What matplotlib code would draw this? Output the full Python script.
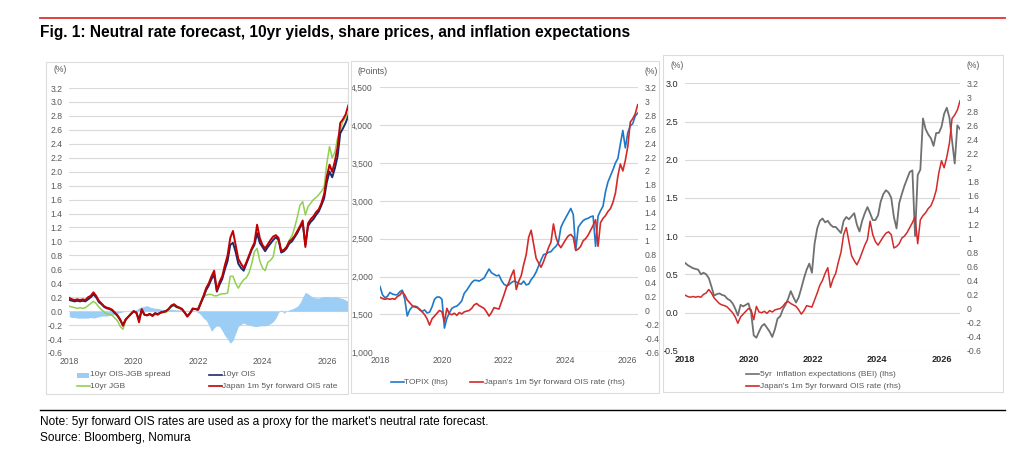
#!/usr/bin/env python3
"""Fig. 1: neutral rate forecast, 10yr yields, share prices and inflation expectations."""

import numpy as np
import pandas as pd
import matplotlib
matplotlib.use("Agg")
import matplotlib.pyplot as plt
from matplotlib.lines import Line2D
from matplotlib.patches import Rectangle
from matplotlib.ticker import FuncFormatter, FixedLocator

plt.rcParams["font.family"] = ["Liberation Sans", "DejaVu Sans"]

months = pd.date_range("2018-01-01", "2026-09-01", freq="MS")

fwd_ois = [  # Japan 1m 5yr forward OIS rate (%)
    0.19, 0.17, 0.16, 0.17, 0.16, 0.17, 0.16, 0.20, 0.22, 0.27, 0.22, 0.15,
    0.11, 0.07, 0.05, 0.04, 0.02, -0.02, -0.06, -0.12, -0.21, -0.12, -0.08, -0.04,
    0.00, -0.02, -0.16, 0.03, -0.05, -0.06, -0.04, -0.07, -0.03, -0.05, -0.02, -0.01,
    0.00, 0.03, 0.08, 0.10, 0.07, 0.05, 0.03, -0.02, -0.08, -0.03, 0.04, 0.03,
    0.02, 0.12, 0.22, 0.33, 0.40, 0.50, 0.58, 0.30, 0.42, 0.50, 0.66, 0.80,
    1.05, 1.15, 0.95, 0.75, 0.68, 0.62, 0.70, 0.80, 0.90, 0.98, 1.24, 1.05,
    0.95, 0.90, 0.96, 1.02, 1.07, 1.09, 1.05, 0.86, 0.88, 0.92, 1.00, 1.03,
    1.08, 1.15, 1.22, 1.30, 0.92, 1.26, 1.32, 1.36, 1.42, 1.46, 1.55, 1.68,
    1.93, 2.10, 2.00, 2.15, 2.35, 2.70, 2.75, 2.82, 2.95,
]
ois_10y = [  # 10yr OIS (%)
    0.16, 0.15, 0.14, 0.15, 0.14, 0.15, 0.14, 0.17, 0.20, 0.24, 0.20, 0.13,
    0.10, 0.06, 0.04, 0.03, 0.01, -0.03, -0.07, -0.13, -0.20, -0.12, -0.08, -0.04,
    0.00, -0.02, -0.12, 0.02, -0.05, -0.06, -0.04, -0.06, -0.03, -0.04, -0.02, -0.01,
    0.00, 0.03, 0.07, 0.09, 0.06, 0.05, 0.03, -0.02, -0.07, -0.03, 0.03, 0.03,
    0.02, 0.11, 0.20, 0.30, 0.37, 0.46, 0.52, 0.28, 0.38, 0.46, 0.60, 0.72,
    0.95, 0.98, 0.85, 0.68, 0.62, 0.58, 0.68, 0.78, 0.88, 0.95, 1.12, 0.98,
    0.92, 0.86, 0.92, 0.97, 1.02, 1.06, 1.02, 0.84, 0.86, 0.90, 0.97, 1.00,
    1.06, 1.12, 1.20, 1.26, 0.95, 1.22, 1.28, 1.32, 1.38, 1.43, 1.52, 1.62,
    1.85, 2.00, 1.92, 2.05, 2.22, 2.55, 2.62, 2.70, 2.80,
]
jgb_10y = [  # 10yr JGB (%)
    0.07, 0.06, 0.05, 0.04, 0.05, 0.04, 0.05, 0.08, 0.11, 0.14, 0.11, 0.06,
    0.02, -0.01, -0.04, -0.05, -0.06, -0.10, -0.14, -0.22, -0.26, -0.14, -0.08, -0.03,
    0.00, -0.04, -0.10, 0.00, -0.05, -0.06, -0.05, -0.07, -0.05, -0.05, -0.03, -0.02,
    -0.02, 0.02, 0.06, 0.08, 0.05, 0.04, 0.02, -0.02, -0.06, -0.02, 0.03, 0.03,
    0.05, 0.14, 0.20, 0.23, 0.24, 0.24, 0.22, 0.22, 0.24, 0.25, 0.25, 0.26,
    0.50, 0.50, 0.40, 0.33, 0.40, 0.45, 0.48, 0.55, 0.68, 0.85, 0.90, 0.72,
    0.62, 0.58, 0.70, 0.73, 0.78, 0.98, 1.02, 0.88, 0.88, 0.93, 1.02, 1.08,
    1.20, 1.35, 1.52, 1.57, 1.38, 1.50, 1.55, 1.60, 1.63, 1.67, 1.72, 1.78,
    2.12, 2.36, 2.20, 2.28, 2.48, 2.60, 2.72, 2.78, 2.84,
]
spread = [  # 10yr OIS-JGB spread (%)
    -0.08, -0.09, -0.09, -0.10, -0.10, -0.10, -0.10, -0.10, -0.09, -0.10, -0.09, -0.08,
    -0.07, -0.07, -0.07, -0.06, -0.05, -0.04, -0.03, -0.02, -0.01, 0.00, 0.00, 0.00,
    0.01, 0.02, 0.05, 0.06, 0.07, 0.08, 0.06, 0.05, 0.04, 0.04, 0.03, 0.02,
    0.02, 0.02, 0.03, 0.02, 0.02, 0.02, 0.01, 0.01, 0.01, 0.01, 0.01, 0.00,
    -0.02, -0.05, -0.10, -0.13, -0.20, -0.29, -0.24, -0.21, -0.22, -0.28, -0.35, -0.40,
    -0.46, -0.42, -0.32, -0.22, -0.19, -0.17, -0.19, -0.20, -0.21, -0.22, -0.22, -0.21,
    -0.21, -0.21, -0.20, -0.18, -0.15, -0.10, -0.02, 0.02, -0.03, 0.00, 0.02, 0.03,
    0.05, 0.07, 0.12, 0.20, 0.27, 0.25, 0.22, 0.20, 0.19, 0.19, 0.20, 0.21,
    0.21, 0.21, 0.20, 0.21, 0.20, 0.19, 0.18, 0.16, 0.14,
]
topix = [  # TOPIX (points)
    1870, 1760, 1720, 1740, 1790, 1770, 1760, 1760, 1800, 1820, 1700, 1480,
    1560, 1600, 1610, 1600, 1560, 1540, 1560, 1520, 1530, 1600, 1700, 1730,
    1730, 1700, 1320, 1450, 1520, 1580, 1600, 1610, 1640, 1680, 1780, 1820,
    1870, 1920, 1950, 1950, 1940, 1960, 1980, 2040, 2100, 2050, 2030, 2010,
    2020, 1950, 1900, 1880, 1890, 1920, 1940, 1930, 1910, 1900, 1940, 1890,
    1900, 1960, 2000, 2060, 2140, 2220, 2290, 2300, 2320, 2330, 2370, 2400,
    2450, 2650, 2720, 2780, 2840, 2900, 2820, 2350, 2650, 2700, 2740, 2760,
    2770, 2790, 2800, 2400, 2800, 2870, 2930, 3120, 3250, 3330, 3410, 3500,
    3560, 3750, 3930, 3700, 3900, 3990, 4020, 4120, 4160,
]
bei_5y = [  # 5yr inflation expectations, BEI (%)
    0.65, 0.62, 0.60, 0.58, 0.57, 0.56, 0.50, 0.52, 0.50, 0.45, 0.34, 0.22,
    0.24, 0.25, 0.23, 0.22, 0.18, 0.16, 0.12, 0.05, -0.04, 0.10, 0.08, 0.10,
    0.12, 0.00, -0.30, -0.33, -0.25, -0.18, -0.15, -0.20, -0.25, -0.32, -0.22, -0.08,
    -0.05, 0.04, 0.10, 0.18, 0.28, 0.20, 0.13, 0.20, 0.32, 0.45, 0.56, 0.64,
    0.52, 0.90, 1.10, 1.20, 1.23, 1.18, 1.20, 1.15, 1.12, 1.12, 1.08, 1.04,
    1.20, 1.25, 1.22, 1.26, 1.30, 1.15, 1.06, 1.20, 1.30, 1.38, 1.30, 1.21,
    1.21, 1.27, 1.45, 1.55, 1.60, 1.57, 1.50, 1.25, 1.10, 1.43, 1.55, 1.66,
    1.75, 1.84, 1.86, 1.00, 1.80, 1.87, 2.54, 2.40, 2.33, 2.28, 2.18, 2.35,
    2.35, 2.43, 2.60, 2.68, 2.55, 2.25, 1.95, 2.45, 2.40,
]
year_labels = ["2018", "2020", "2022", "2024", "2026"]

t = months.year + (months.month - 1) / 12.0

RED = "#c00000"
RED2 = "#d32a2a"
NAVY = "#1b2a6b"
GREEN = "#92d050"
LBLUE = "#9ccdf5"
BLUE = "#1f78c8"
GREY = "#707070"
TXT = "#595959"
GRID = "#d9d9d9"
FS = 6.2

W, H = 1024, 449
fig = plt.figure(figsize=(W / 100, H / 100), dpi=100)


def fx(px):
    return px / W


def fy(py):
    return 1 - py / H


def make_ax(x0, x1, y0, y1):
    ax = fig.add_axes([fx(x0), fy(y1), fx(x1 - x0), (y1 - y0) / H])
    for s in ax.spines.values():
        s.set_visible(False)
    ax.tick_params(length=0, labelsize=FS, colors=TXT)
    ax.set_axisbelow(True)
    ax.grid(axis="y", color=GRID, lw=0.8)
    return ax


def fig_line(x0, x1, y, color, lw=1.0):
    fig.add_artist(Line2D([fx(x0), fx(x1)], [fy(y), fy(y)], color=color,
                          lw=lw, transform=fig.transFigure))


def legend_item(x0, y, color, label, patch=False):
    if patch:
        fig.add_artist(Rectangle((fx(x0), fy(y + 2.5)), fx(12), 5 / H, color=color,
                                 transform=fig.transFigure, lw=0))
    else:
        fig_line(x0, x0 + 13, y, color, lw=1.2)
    fig.text(fx(x0 + 13.5), fy(y), label, fontsize=6.0, color=TXT, va="center")


def box(x0, x1, y0, y1):
    fig.add_artist(Rectangle((fx(x0), fy(y1)), fx(x1 - x0), (y1 - y0) / H,
                             fill=False, ec="#dcdcdc", lw=0.8,
                             transform=fig.transFigure))


rhs_fmt = FuncFormatter(lambda v, _: f"{round(v, 1) + 0:g}")
rhs_ticks = np.round(np.arange(-0.6, 3.21, 0.2), 1)

# header / footer
fig_line(40, 1005, 18, "#e03030", lw=1.3)
fig.text(fx(40), fy(33), "Fig. 1: Neutral rate forecast, 10yr yields, share prices, "
         "and inflation expectations", fontsize=11.2, fontweight="bold", va="center")
fig_line(40, 1005, 410, "black", lw=1.0)
fig.text(fx(40), fy(422), "Note: 5yr forward OIS rates are used as a proxy for the "
         "market's neutral rate forecast.", fontsize=8.6, va="center")
fig.text(fx(40), fy(438), "Source: Bloomberg, Nomura", fontsize=8.6, va="center")

box(46, 348, 62, 394)
box(351, 659, 61, 393)
box(663, 1003, 55, 392)

# panel 1: rates
ax1 = make_ax(69.3, 348.3, 88, 353)
ax1.fill_between(t, 0, spread, color=LBLUE, lw=0)
ax1.plot(t, jgb_10y, color=GREEN, lw=1.1)
ax1.plot(t, ois_10y, color=NAVY, lw=1.4)
ax1.plot(t, fwd_ois, color=RED, lw=1.4)
ax1.set_xlim(t[0], t[-1])
ax1.set_ylim(-0.6, 3.2)
ax1.yaxis.set_major_locator(FixedLocator(rhs_ticks))
ax1.yaxis.set_major_formatter(FuncFormatter(lambda v, _: f"{v:.1f}"))
ax1.set_xticks([2018, 2020, 2022, 2024, 2026], year_labels)
ax1.tick_params(axis="y", pad=5)
ax1.tick_params(axis="x", pad=3)
fig.text(fx(60), fy(70), "(%)", fontsize=FS, color=TXT, ha="center", va="center")
legend_item(77, 375, LBLUE, "10yr OIS-JGB spread", patch=True)
legend_item(209, 375, NAVY, "10yr OIS")
legend_item(77, 386, GREEN, "10yr JGB")
legend_item(209, 386, RED, "Japan 1m 5yr forward OIS rate")

# panel 2: TOPIX
ax2 = make_ax(380, 637.7, 87.3, 352.3)
ax2.plot(t, topix, color=BLUE, lw=1.2)
ax2.set_xlim(t[0], t[-1])
ax2.set_ylim(1000, 4500)
ax2.set_yticks(np.arange(1000, 4501, 500))
ax2.yaxis.set_major_formatter(FuncFormatter(lambda v, _: f"{v:,.0f}"))
ax2.set_xticks([2018, 2020.08, 2022.15, 2024.23, 2026.3], year_labels)
ax2.tick_params(axis="y", pad=5)
ax2.tick_params(axis="x", pad=3)
ax2r = ax2.twinx()
for s in ax2r.spines.values():
    s.set_visible(False)
ax2r.plot(t, fwd_ois, color=RED2, lw=1.2)
ax2r.set_ylim(-0.6, 3.2)
ax2r.yaxis.set_major_locator(FixedLocator(rhs_ticks))
ax2r.yaxis.set_major_formatter(rhs_fmt)
ax2r.tick_params(length=0, labelsize=FS, colors=TXT, pad=5)
fig.text(fx(358), fy(71), "(Points)", fontsize=FS, color=TXT, va="center")
fig.text(fx(651), fy(71), "(%)", fontsize=FS, color=TXT, ha="center", va="center")
legend_item(391, 382, BLUE, "TOPIX (lhs)")
legend_item(470, 382, RED2, "Japan's 1m 5yr forward OIS rate (rhs)")

# panel 3: BEI
ax3 = make_ax(685, 960, 83.3, 350.7)
ax3.plot(t, bei_5y, color=GREY, lw=1.3)
ax3.set_xlim(t[0], t[-1])
ax3.set_ylim(-0.5, 3.0)
ax3.set_yticks(np.arange(-0.5, 3.01, 0.5))
ax3.yaxis.set_major_formatter(FuncFormatter(lambda v, _: f"{v:.1f}"))
ax3.set_xticks([2018, 2020.02, 2022.04, 2024.06, 2026.09], year_labels)
ax3.tick_params(axis="y", pad=5, colors="#262626", labelsize=6.6)
ax3.tick_params(axis="x", pad=3, colors="#262626", labelsize=6.6)
for lab in ax3.get_xticklabels():
    lab.set_fontweight("bold")
ax3r = ax3.twinx()
for s in ax3r.spines.values():
    s.set_visible(False)
ax3r.plot(t, fwd_ois, color=RED2, lw=1.1)
ax3r.set_ylim(-0.6, 3.2)
ax3r.yaxis.set_major_locator(FixedLocator(rhs_ticks))
ax3r.yaxis.set_major_formatter(rhs_fmt)
ax3r.tick_params(length=0, labelsize=FS, colors=TXT, pad=5)
fig.text(fx(677), fy(65), "(%)", fontsize=FS, color=TXT, ha="center", va="center")
fig.text(fx(973), fy(65), "(%)", fontsize=FS, color=TXT, ha="center", va="center")
legend_item(746, 374, GREY, "5yr  inflation expectations (BEI) (lhs)")
legend_item(746, 386, RED2, "Japan's 1m 5yr forward OIS rate (rhs)")

fig.savefig("out.png", dpi=100)
